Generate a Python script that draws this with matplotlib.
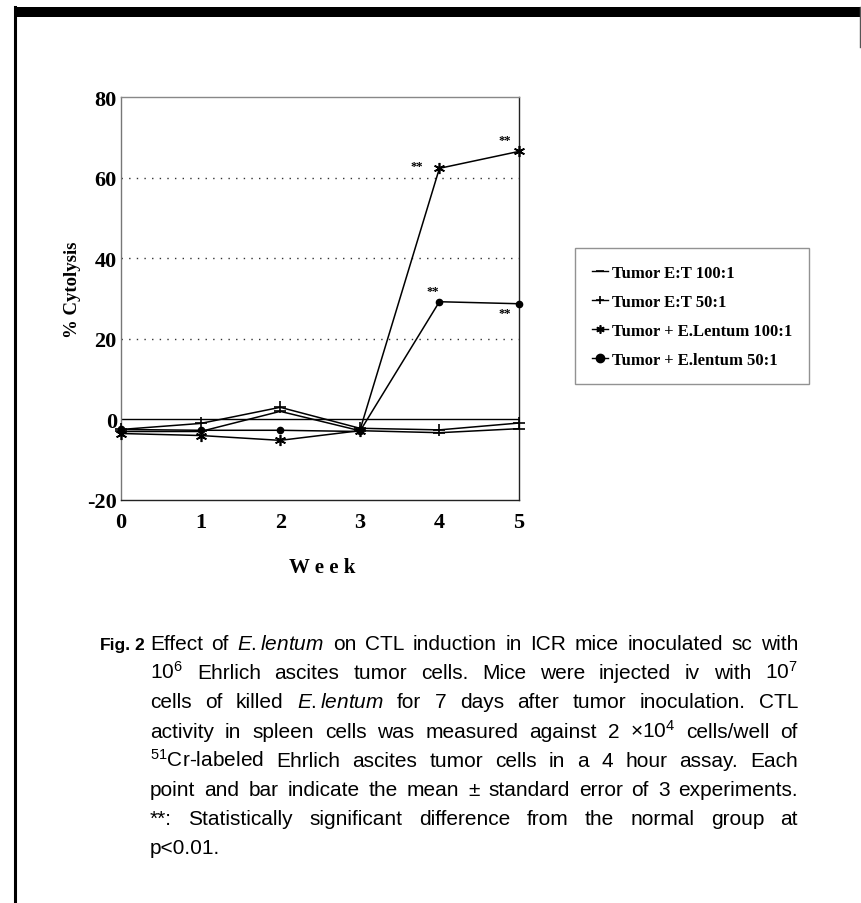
import matplotlib
matplotlib.use("Agg")
import matplotlib.pyplot as plt
from matplotlib.lines import Line2D
from matplotlib.patches import Rectangle

plt.rcParams['mathtext.fontset'] = 'custom'
plt.rcParams['mathtext.rm'] = 'Liberation Sans'
plt.rcParams['mathtext.it'] = 'Liberation Sans:italic'
plt.rcParams['mathtext.bf'] = 'Liberation Sans:bold'
plt.rcParams['axes.unicode_minus'] = False

# ---------------- data ----------------
weeks = [0, 1, 2, 3, 4, 5]
tumor_et_100 = [-3.0, -3.0, 2.0, -2.8, -3.3, -2.3]
tumor_et_50 = [-2.5, -1.0, 3.0, -2.2, -2.6, -0.9]
tumor_el_100 = [-3.5, -4.0, -5.2, -2.8, 62.3, 66.5]
tumor_el_50 = [-2.5, -2.7, -2.7, -3.0, 29.2, 28.7]
series_labels = ["Tumor E:T 100:1", "Tumor E:T 50:1",
                 "Tumor + E.Lentum 100:1", "Tumor + E.lentum 50:1"]
y_ticks = [-20, 0, 20, 40, 60, 80]
x_ticks = [0, 1, 2, 3, 4, 5]
y_label = "% Cytolysis"
x_label = "W e e k"
sig_label = "**"
# significance marks: (series index, week index, offset px)
sig_marks = [(2, 4, (-23, 2)), (2, 5, (-14, 11)), (3, 4, (-7, 11)), (3, 5, (-14, -9))]

caption_lines = [
    ["Effect", "of", r"$\mathit{E.lentum}$", "on", "CTL", "induction", "in", "ICR", "mice", "inoculated", "sc", "with"],
    ["10$^{6}$", "Ehrlich", "ascites", "tumor", "cells.", "Mice", "were", "injected", "iv", "with", "10$^{7}$"],
    ["cells", "of", "killed", r"$\mathit{E.lentum}$", "for", "7", "days", "after", "tumor", "inoculation.", "CTL"],
    ["activity", "in", "spleen", "cells", "was", "measured", "against", "2", "\u00d710$^{4}$", "cells/well", "of"],
    ["$^{51}$Cr-labeled", "Ehrlich", "ascites", "tumor", "cells", "in", "a", "4", "hour", "assay.", "Each"],
    ["point", "and", "bar", "indicate", "the", "mean", "\u00b1", "standard", "error", "of", "3", "experiments."],
    ["**:", "Statistically", "significant", "difference", "from", "the", "normal", "group", "at"],
    ["p<0.01."],
]
fig_label_a = "Fig."
fig_label_b = "2"

# ---------------- figure ----------------
W, H = 862, 904
fig = plt.figure(figsize=(W / 100, H / 100), dpi=100)
fig.patch.set_facecolor("white")

def fx(px):
    return px / W

def fy(py):
    return 1 - py / H

serif = "Liberation Serif"
ax = fig.add_axes([fx(121), fy(501), fx(519) - fx(121), fy(98) - fy(501)])
ax.set_xlim(0, 5)
ax.set_ylim(-20, 80)

styles = [
    dict(marker="_", markersize=8, mew=1.2),
    dict(marker="+", markersize=9, mew=1.2),
    dict(marker=(6, 2, 0), markersize=8, mew=1.2),
    dict(marker="o", markersize=4.5),
]
all_series = [tumor_et_100, tumor_et_50, tumor_el_100, tumor_el_50]
handles = []
for vals, st, lab in zip(all_series, styles, series_labels):
    h, = ax.plot(weeks, vals, color="black", lw=1.1, label=lab, clip_on=False, zorder=3, **st)
    handles.append(h)

for si, wi, off in sig_marks:
    ax.annotate(sig_label, (weeks[wi], all_series[si][wi]), xytext=off,
                textcoords="offset pixels", ha="center", va="center",
                fontfamily=serif, fontweight="bold", fontsize=9)

for g in [20, 40, 60]:
    ax.axhline(g, color="#333333", lw=1.0, ls=(0, (1, 4.5)), zorder=1)
ax.axhline(0, color="black", lw=1.0, zorder=2)

for side in ["left", "right", "bottom"]:
    ax.spines[side].set_color("#222222")
    ax.spines[side].set_linewidth(1.0)
ax.spines["top"].set_color("#888888")
ax.spines["top"].set_linewidth(1.0)
ax.spines["left"].set_color("#777777")

ax.set_xticks(x_ticks)
ax.set_yticks(y_ticks)
ax.tick_params(length=0, labelsize=16)
ax.tick_params(axis="x", pad=9)
ax.tick_params(axis="y", pad=3)
for t in ax.get_xticklabels() + ax.get_yticklabels():
    t.set_fontfamily(serif)
    t.set_fontweight("bold")

ax.set_ylabel(y_label, fontfamily=serif, fontweight="bold", fontsize=13.5)
ax.yaxis.set_label_coords(-0.100, 0.524)
ax.set_xlabel(x_label, fontfamily=serif, fontweight="bold", fontsize=15)
ax.xaxis.set_label_coords(0.505, -0.141)

leg = fig.legend(handles=handles, labels=series_labels, loc="upper left",
                 bbox_to_anchor=(fx(575), fy(249)), frameon=True, fancybox=False,
                 prop=dict(family=serif, weight="bold", size=12),
                 handlelength=1.0, handletextpad=0.2, labelspacing=0.78,
                 borderpad=1.0, borderaxespad=0)
leg.get_frame().set_edgecolor("#777777")
leg.get_frame().set_linewidth(1.0)
for lh in leg.legend_handles:
    lh.set_markersize(6)
    lh.set_linewidth(1.0)

# ---------------- border ----------------
fig.add_artist(Rectangle((fx(14), fy(18)), 1 - fx(14), fy(8) - fy(18),
                         transform=fig.transFigure, color="black", lw=0))
fig.add_artist(Line2D([fx(15.5), fx(15.5)], [0, fy(8)], transform=fig.transFigure,
                      color="black", lw=2.2))
fig.add_artist(Line2D([fx(860.5), fx(860.5)], [fy(8), fy(48)], transform=fig.transFigure,
                      color="#555555", lw=1.0))

# ---------------- caption ----------------
sans = "Liberation Sans"
cap_size = 15
x0, x1 = 150, 798
y0, dy = 650, 29.2
fig.text(fx(100), fy(y0), fig_label_a, fontfamily=sans, fontweight="bold",
         fontsize=12.5, va="baseline", ha="left")
fig.text(fx(134), fy(y0), fig_label_b, fontfamily=sans, fontweight="bold",
         fontsize=12.5, va="baseline", ha="left")

renderer = fig.canvas.get_renderer()
for i, words in enumerate(caption_lines):
    yb = y0 + i * dy
    texts = [fig.text(0, fy(yb), w, fontfamily=sans, fontsize=cap_size, va="baseline", ha="left")
             for w in words]
    widths = [t.get_window_extent(renderer).width for t in texts]
    if i < len(caption_lines) - 1 and len(words) > 1:
        gap = (x1 - x0 - sum(widths)) / (len(words) - 1)
    else:
        gap = 5
    x = x0
    for t, wd in zip(texts, widths):
        t.set_x(fx(x))
        x += wd + gap

fig.savefig("out.png", dpi=100, facecolor="white")
